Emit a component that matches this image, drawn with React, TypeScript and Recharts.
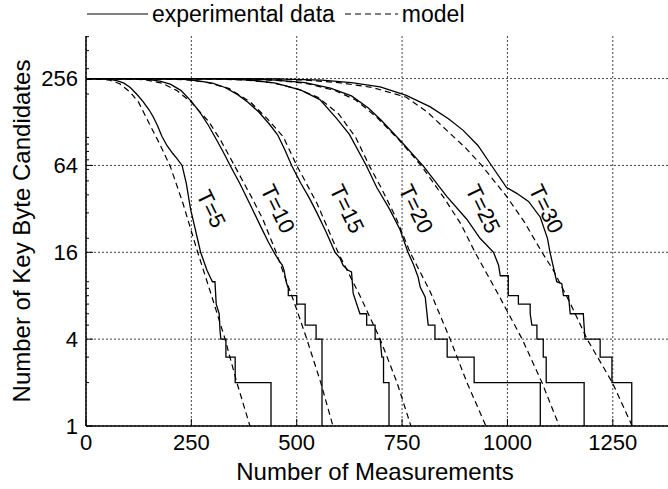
import { LineChart, Line, XAxis, YAxis, CartesianGrid, ReferenceDot } from 'recharts';

const FONT = '"Liberation Sans", Arial, sans-serif';

const X_TICKS = [0, 250, 500, 750, 1000, 1250];
const Y_TICKS = [1, 4, 16, 64, 256];
const Y_MINOR_TICKS = [2, 3, 5, 6, 7, 8, 9, 10, 20, 30, 40, 50, 60, 70, 80, 90, 100, 200, 300, 400, 500];
const X_MAX = 1400;
const Y_MAX = 505;

// curve labels, placed at (measurements, candidates)
const T_LABELS = ['T=5', 'T=10', 'T=15', 'T=20', 'T=25', 'T=30'];
const LABEL_X = [297, 455, 619, 783, 942, 1092];
const LABEL_Y = 32;

// experimental data: [measurements, remaining candidates], step corners listed explicitly
const EXP_T5 = [[0, 256], [45, 255], [60, 252], [75, 247], [90, 238], [105, 222], [120, 200], [135, 178], [150, 155], [160, 138], [170, 120], [180, 102], [192, 88], [205, 78], [215, 72], [228, 64], [238, 48], [248, 32], [258, 24], [266, 19], [272, 16], [287, 12], [300, 10], [306, 10], [309, 7], [316, 6], [318, 4.6], [320, 4], [332, 4], [332, 3], [354, 3], [354, 2], [439, 2], [439, 1]];
const EXP_T10 = [[0, 256], [120, 255], [150, 252], [175, 246], [200, 234], [225, 212], [250, 178], [270, 150], [290, 122], [310, 96], [325, 80], [342, 64], [365, 48], [390, 34], [415, 24], [432, 19], [446, 16], [458, 14], [466, 13], [470, 12], [475, 10], [480, 9], [480, 8], [500, 8], [500, 7], [520, 7], [520, 5], [546, 5], [546, 4], [560, 4], [560, 1]];
const EXP_T15 = [[0, 256], [210, 255], [240, 252], [270, 246], [300, 238], [330, 222], [360, 198], [385, 175], [410, 150], [435, 124], [455, 104], [472, 82], [488, 64], [510, 48], [530, 38], [548, 30], [570, 22], [591, 16], [603, 14.5], [610, 13], [622, 12], [630, 11.7], [634, 8.3], [650, 6], [666, 6], [666, 5], [686, 5], [686, 4], [698, 4], [702, 3], [706, 3], [706, 2], [719, 2], [719, 1]];
const EXP_T20 = [[0, 256], [320, 255], [390, 250], [450, 238], [510, 213], [555, 183], [595, 135], [625, 105], [665, 64], [690, 45], [720, 32], [745, 23], [764, 16], [776, 13.4], [788, 10.8], [793, 9.2], [805, 7.8], [812, 5], [828, 5], [828, 4], [857, 4], [857, 3], [921, 3], [921, 2], [1078, 2], [1078, 1]];
const EXP_T25 = [[0, 256], [380, 255], [450, 250], [520, 240], [580, 220], [630, 194], [670, 160], [700, 132], [749, 93], [801, 63], [856, 39], [904, 27], [935, 20], [967, 16], [979, 13], [983, 11], [1002, 11], [1002, 8], [1026, 8], [1026, 7], [1054, 7], [1054, 6], [1058, 5], [1070, 5], [1070, 4], [1085, 4], [1085, 3], [1092, 3], [1092, 2], [1182, 2], [1182, 1]];
const EXP_T30 = [[0, 256], [450, 255], [560, 250], [630, 240], [698, 224], [760, 196], [817, 163], [860, 135], [895, 112], [930, 88], [959, 66], [998, 45], [1022, 41], [1050, 36], [1078, 28], [1095, 20], [1101, 16], [1117, 10], [1129, 9.7], [1133, 8], [1145, 8], [1149, 6], [1180, 6], [1184, 4], [1220, 4], [1220, 3], [1248, 3], [1248, 2], [1295, 2], [1295, 1]];

// model curves
const MODEL_T5 = [[0, 256], [30, 255], [55, 250], [80, 236], [105, 206], [125, 175], [150, 125], [175, 90], [200, 63], [230, 35], [265, 16], [298, 8], [330, 4], [358, 2], [389, 1]];
const MODEL_T10 = [[0, 256], [100, 255], [140, 251], [180, 238], [215, 212], [250, 175], [292, 128], [320, 95], [352, 64], [390, 40], [420, 27], [451, 16], [501, 6.3], [524, 4], [557, 2], [586, 1]];
const MODEL_T15 = [[0, 256], [190, 255], [240, 251], [290, 240], [340, 218], [390, 176], [430, 135], [468, 101], [500, 64], [548, 35], [598, 16], [650, 8], [698, 4], [738, 2], [771, 1]];
const MODEL_T20 = [[0, 256], [300, 255], [380, 250], [440, 240], [500, 218], [550, 190], [600, 145], [640, 100], [672, 64], [700, 45], [735, 28], [769, 16], [817, 8.5], [864, 4], [904, 2], [949, 1]];
const MODEL_T25 = [[0, 256], [350, 255], [440, 250], [520, 238], [590, 212], [640, 182], [690, 138], [740, 98], [795, 64], [850, 38], [890, 25], [923, 16], [980, 8], [1035, 4], [1082, 2], [1123, 1]];
const MODEL_T30 = [[0, 256], [420, 255], [520, 250], [600, 240], [680, 222], [760, 190], [810, 150], [856, 112], [900, 85], [939, 64], [998, 39], [1040, 26], [1082, 16], [1109, 12], [1150, 7], [1189, 4], [1249, 2], [1296, 1]];

const EXPERIMENTAL = [EXP_T5, EXP_T10, EXP_T15, EXP_T20, EXP_T25, EXP_T30];
const MODEL = [MODEL_T5, MODEL_T10, MODEL_T15, MODEL_T20, MODEL_T25, MODEL_T30];

const LEGEND_ITEMS = [
  { label: 'experimental data', dash: undefined, width: 61, gap: 10 },
  { label: 'model', dash: '6 4', width: 53, gap: 0 },
];

const Y_ALL_TICKS = [...Y_TICKS, ...Y_MINOR_TICKS].sort((a, b) => a - b);
const TICK_MARGIN = 8;

const toPoints = (rows: number[][]) => rows.map(([x, y]) => ({ x, y }));

// left axis: label for the major values, short inward mark for every tick
function YTick({ x, y, payload }: any) {
  const major = Y_TICKS.includes(payload.value);
  const ax = x + TICK_MARGIN;
  return (
    <g>
      <line x1={ax} y1={y} x2={ax + (major ? 7 : 3)} y2={y} stroke="#000" strokeWidth={1} />
      {major && (
        <text x={x} y={y} dy="0.36em" textAnchor="end" fontSize={22} fontFamily={FONT} fill="#000">
          {payload.value}
        </text>
      )}
    </g>
  );
}

function XTick({ x, y, payload }: any) {
  const ay = y - TICK_MARGIN;
  return (
    <g>
      <line x1={x} y1={ay} x2={x} y2={ay - 7} stroke="#000" strokeWidth={1} />
      <text x={x} y={y} dy="0.72em" textAnchor="middle" fontSize={22} fontFamily={FONT} fill="#000">
        {payload.value}
      </text>
    </g>
  );
}

function TopTick({ x, y }: any) {
  return <line x1={x} y1={y} x2={x} y2={y + 6} stroke="#000" strokeWidth={1} />;
}

function RotatedLabel({ cx, cy, text }: { cx?: number; cy?: number; text: string }) {
  if (cx == null || cy == null) return null;
  return (
    <text
      x={cx}
      y={cy}
      transform={`rotate(64 ${cx} ${cy})`}
      textAnchor="middle"
      dominantBaseline="central"
      fontSize={22}
      fontFamily={FONT}
      fill="#000"
    >
      {text}
    </text>
  );
}

function YTitle({ viewBox }: any) {
  const cx = viewBox.x + 21;
  const cy = viewBox.y + viewBox.height / 2;
  return (
    <text
      x={cx}
      y={cy}
      transform={`rotate(-90 ${cx} ${cy})`}
      textAnchor="middle"
      dominantBaseline="central"
      fontSize={24}
      fontFamily={FONT}
      fill="#000"
    >
      Number of Key Byte Candidates
    </text>
  );
}

export default function App() {
  return (
    <div style={{ position: 'absolute', left: 0, top: 0, width: 668, height: 489, overflow: 'hidden', background: '#fff' }}>
      <div style={{ position: 'absolute', left: 87, top: 1, display: 'flex', alignItems: 'center', fontFamily: FONT, fontSize: 23, lineHeight: '26px' }}>
        {LEGEND_ITEMS.map((item) => (
          <div key={item.label} style={{ display: 'flex', alignItems: 'center', marginRight: item.gap }}>
            <svg width={item.width} height={10} style={{ marginRight: 4 }}>
              <line x1={0} y1={5} x2={item.width} y2={5} stroke="#000" strokeWidth={1.2} strokeDasharray={item.dash} />
            </svg>
            <span>{item.label}</span>
          </div>
        ))}
      </div>
      <LineChart width={690} height={489} margin={{ top: 36, right: 14, bottom: 0, left: 0 }}>
        <CartesianGrid stroke="#444" strokeDasharray="2 2" horizontalValues={Y_TICKS} verticalValues={X_TICKS} />
        <XAxis
          dataKey="x"
          type="number"
          domain={[0, X_MAX]}
          ticks={X_TICKS}
          interval={0}
          height={63}
          tickSize={0}
          tickMargin={TICK_MARGIN}
          tick={<XTick />}
          tickLine={false}
          axisLine={{ stroke: '#000', strokeWidth: 1.5 }}
          allowDataOverflow
          label={{ value: 'Number of Measurements', position: 'insideBottom', offset: 9, style: { fontSize: 24, fontFamily: FONT, fill: '#000' }, dx: -6 }}
        />
        <XAxis
          xAxisId="top"
          orientation="top"
          type="number"
          domain={[0, X_MAX]}
          ticks={X_TICKS}
          interval={0}
          height={0}
          tickSize={0}
          tickMargin={0}
          tick={<TopTick />}
          tickLine={false}
          axisLine={{ stroke: '#000', strokeWidth: 1.5 }}
          allowDataOverflow
        />
        <YAxis
          type="number"
          scale="log"
          domain={[1, Y_MAX]}
          ticks={Y_ALL_TICKS}
          interval={0}
          width={86}
          tickSize={0}
          tickMargin={TICK_MARGIN}
          tick={<YTick />}
          tickLine={false}
          axisLine={{ stroke: '#000', strokeWidth: 1.5 }}
          allowDataOverflow
          label={{ content: YTitle }}
        />
        {MODEL.map((rows, i) => (
          <Line
            key={`m${i}`}
            data={toPoints(rows)}
            dataKey="y"
            type="linear"
            stroke="#000"
            strokeWidth={1.2}
            strokeDasharray="6 4"
            dot={false}
            isAnimationActive={false}
          />
        ))}
        {EXPERIMENTAL.map((rows, i) => (
          <Line
            key={`e${i}`}
            data={toPoints(rows)}
            dataKey="y"
            type="linear"
            stroke="#000"
            strokeWidth={1.3}
            dot={false}
            isAnimationActive={false}
          />
        ))}
        {T_LABELS.map((t, i) => (
          <ReferenceDot key={t} x={LABEL_X[i]} y={LABEL_Y} r={0} shape={(p: any) => <RotatedLabel cx={p.cx} cy={p.cy} text={t} />} />
        ))}
      </LineChart>
    </div>
  );
}
